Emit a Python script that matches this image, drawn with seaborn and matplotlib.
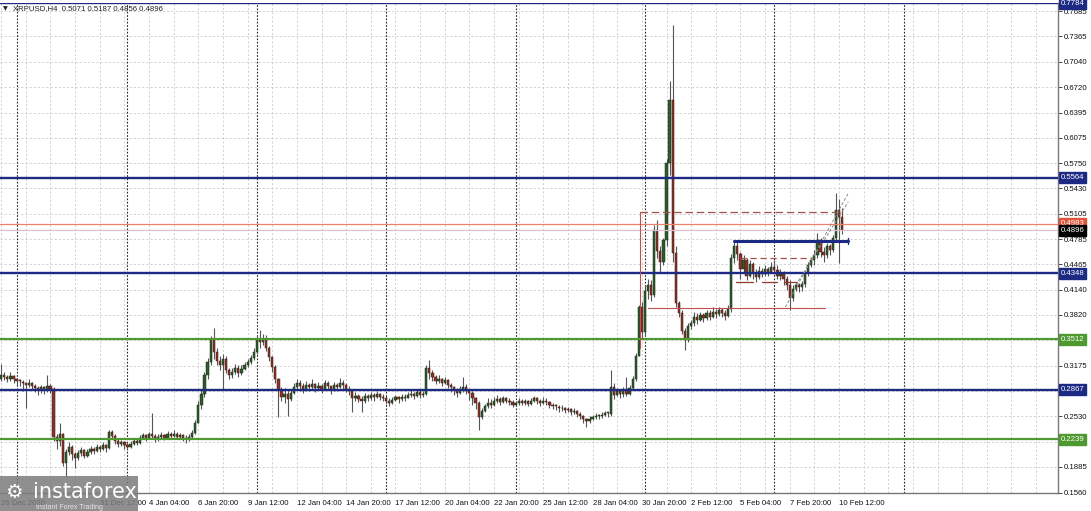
import numpy as np
import pandas as pd
import matplotlib
matplotlib.use("Agg")
import matplotlib.pyplot as plt
import seaborn as sns
from matplotlib.transforms import blended_transform_factory
from matplotlib.patches import Rectangle

# ---------------- data (XRPUSD, H4 candles) ----------------
first_open = 0.300
close = [0.306, 0.303, 0.301, 0.304, 0.300, 0.298, 0.297, 0.295, 0.293, 0.296,
         0.292, 0.289, 0.287, 0.290, 0.286, 0.292, 0.288, 0.227, 0.222, 0.230,
         0.193, 0.208, 0.214, 0.205, 0.200, 0.206, 0.210, 0.203, 0.207, 0.212,
         0.209, 0.214, 0.211, 0.216, 0.213, 0.233, 0.228, 0.222, 0.218, 0.220,
         0.216, 0.214, 0.218, 0.222, 0.219, 0.226, 0.229, 0.225, 0.230, 0.228,
         0.224, 0.227, 0.229, 0.226, 0.230, 0.228, 0.231, 0.227, 0.229, 0.226,
         0.224, 0.227, 0.232, 0.245, 0.268, 0.282, 0.305, 0.322, 0.350, 0.335,
         0.323, 0.318, 0.326, 0.312, 0.305, 0.310, 0.315, 0.308, 0.313, 0.318,
         0.322, 0.327, 0.335, 0.350, 0.348, 0.352, 0.340, 0.328, 0.316, 0.300,
         0.286, 0.277, 0.282, 0.275, 0.283, 0.290, 0.296, 0.292, 0.287, 0.293,
         0.290, 0.294, 0.289, 0.292, 0.288, 0.295, 0.291, 0.287, 0.293, 0.290,
         0.296, 0.293, 0.288, 0.285, 0.276, 0.279, 0.275, 0.272, 0.279, 0.276,
         0.280, 0.277, 0.281, 0.278, 0.276, 0.273, 0.270, 0.274, 0.277, 0.275,
         0.278, 0.276, 0.280, 0.282, 0.279, 0.284, 0.280, 0.282, 0.315, 0.308,
         0.303, 0.298, 0.301, 0.296, 0.299, 0.293, 0.290, 0.287, 0.283, 0.288,
         0.290, 0.285, 0.283, 0.276, 0.270, 0.252, 0.260, 0.266, 0.270, 0.268,
         0.273, 0.275, 0.271, 0.276, 0.273, 0.271, 0.268, 0.270, 0.272, 0.270,
         0.272, 0.269, 0.273, 0.276, 0.272, 0.270, 0.273, 0.271, 0.268, 0.266,
         0.265, 0.263, 0.264, 0.261, 0.262, 0.259, 0.260, 0.256, 0.253, 0.249,
         0.247, 0.250, 0.252, 0.254, 0.253, 0.255, 0.257, 0.256, 0.290, 0.280,
         0.285, 0.281, 0.286, 0.282, 0.289, 0.300, 0.330, 0.392, 0.360, 0.412,
         0.420, 0.408, 0.490, 0.463, 0.450, 0.477, 0.575, 0.655, 0.461, 0.397,
         0.385, 0.362, 0.350, 0.368, 0.372, 0.380, 0.376, 0.382, 0.378, 0.384,
         0.380, 0.386, 0.383, 0.388, 0.385, 0.381, 0.389, 0.455, 0.470, 0.460,
         0.440, 0.452, 0.432, 0.447, 0.436, 0.430, 0.438, 0.434, 0.440, 0.437,
         0.443, 0.439, 0.432, 0.436, 0.428, 0.420, 0.404, 0.415, 0.420, 0.417,
         0.422, 0.435, 0.446, 0.452, 0.458, 0.478, 0.462, 0.458, 0.470, 0.465,
         0.480, 0.515, 0.5071, 0.4896]
high = [0.320, 0.309, 0.306, 0.310, 0.306, 0.302, 0.301, 0.299, 0.297, 0.300,
        0.297, 0.294, 0.292, 0.293, 0.291, 0.305, 0.294, 0.290, 0.230, 0.244,
        0.232, 0.212, 0.220, 0.216, 0.208, 0.210, 0.214, 0.212, 0.211, 0.215,
        0.214, 0.218, 0.216, 0.220, 0.218, 0.236, 0.235, 0.230, 0.225, 0.223,
        0.222, 0.219, 0.221, 0.225, 0.224, 0.229, 0.232, 0.231, 0.233, 0.257,
        0.231, 0.230, 0.233, 0.231, 0.234, 0.233, 0.235, 0.233, 0.232, 0.231,
        0.229, 0.230, 0.236, 0.248, 0.272, 0.288, 0.310, 0.327, 0.355, 0.365,
        0.340, 0.330, 0.332, 0.330, 0.314, 0.315, 0.320, 0.318, 0.318, 0.322,
        0.326, 0.331, 0.340, 0.355, 0.363, 0.358, 0.356, 0.342, 0.330, 0.318,
        0.302, 0.290, 0.289, 0.286, 0.287, 0.295, 0.300, 0.299, 0.295, 0.298,
        0.296, 0.300, 0.296, 0.297, 0.294, 0.299, 0.298, 0.292, 0.297, 0.296,
        0.302, 0.299, 0.296, 0.291, 0.287, 0.284, 0.281, 0.279, 0.283, 0.282,
        0.284, 0.283, 0.285, 0.283, 0.281, 0.279, 0.276, 0.278, 0.280, 0.279,
        0.282, 0.281, 0.284, 0.286, 0.284, 0.287, 0.286, 0.285, 0.318, 0.325,
        0.312, 0.306, 0.305, 0.302, 0.303, 0.300, 0.296, 0.292, 0.289, 0.291,
        0.303, 0.294, 0.288, 0.285, 0.278, 0.272, 0.264, 0.269, 0.276, 0.275,
        0.277, 0.280, 0.278, 0.279, 0.278, 0.276, 0.274, 0.273, 0.276, 0.275,
        0.275, 0.274, 0.276, 0.279, 0.278, 0.275, 0.277, 0.276, 0.272, 0.270,
        0.269, 0.267, 0.267, 0.265, 0.265, 0.263, 0.263, 0.261, 0.258, 0.255,
        0.251, 0.253, 0.255, 0.257, 0.256, 0.258, 0.260, 0.259, 0.312, 0.296,
        0.289, 0.288, 0.290, 0.303, 0.293, 0.304, 0.333, 0.395, 0.398, 0.420,
        0.428, 0.426, 0.496, 0.503, 0.470, 0.480, 0.580, 0.680, 0.751, 0.470,
        0.400, 0.388, 0.366, 0.372, 0.376, 0.386, 0.384, 0.386, 0.385, 0.388,
        0.388, 0.392, 0.390, 0.392, 0.391, 0.388, 0.395, 0.460, 0.477, 0.475,
        0.462, 0.458, 0.455, 0.452, 0.450, 0.440, 0.444, 0.442, 0.445, 0.443,
        0.450, 0.452, 0.445, 0.440, 0.438, 0.432, 0.426, 0.420, 0.424, 0.423,
        0.425, 0.438, 0.450, 0.456, 0.465, 0.486, 0.480, 0.468, 0.474, 0.472,
        0.484, 0.537, 0.530, 0.5187]
low = [0.298, 0.299, 0.297, 0.298, 0.295, 0.293, 0.292, 0.285, 0.264, 0.290,
       0.286, 0.284, 0.280, 0.283, 0.281, 0.284, 0.283, 0.222, 0.212, 0.215,
       0.190, 0.176, 0.204, 0.197, 0.187, 0.197, 0.203, 0.200, 0.201, 0.205,
       0.205, 0.207, 0.207, 0.210, 0.208, 0.212, 0.226, 0.218, 0.214, 0.215,
       0.212, 0.210, 0.213, 0.217, 0.216, 0.218, 0.224, 0.222, 0.224, 0.224,
       0.220, 0.222, 0.225, 0.223, 0.225, 0.225, 0.227, 0.224, 0.225, 0.222,
       0.219, 0.222, 0.226, 0.230, 0.244, 0.262, 0.278, 0.300, 0.318, 0.326,
       0.318, 0.312, 0.286, 0.308, 0.300, 0.302, 0.307, 0.303, 0.306, 0.312,
       0.316, 0.320, 0.325, 0.332, 0.340, 0.344, 0.336, 0.324, 0.310, 0.296,
       0.252, 0.272, 0.270, 0.253, 0.272, 0.281, 0.286, 0.285, 0.283, 0.285,
       0.285, 0.287, 0.284, 0.286, 0.283, 0.286, 0.286, 0.282, 0.285, 0.285,
       0.289, 0.288, 0.284, 0.280, 0.259, 0.272, 0.271, 0.258, 0.270, 0.272,
       0.274, 0.273, 0.276, 0.274, 0.272, 0.269, 0.266, 0.269, 0.273, 0.270,
       0.273, 0.272, 0.276, 0.278, 0.275, 0.278, 0.276, 0.278, 0.280, 0.300,
       0.298, 0.294, 0.295, 0.292, 0.294, 0.289, 0.284, 0.280, 0.278, 0.282,
       0.284, 0.281, 0.274, 0.268, 0.262, 0.236, 0.250, 0.258, 0.264, 0.264,
       0.266, 0.270, 0.268, 0.270, 0.270, 0.267, 0.265, 0.266, 0.268, 0.267,
       0.268, 0.266, 0.268, 0.271, 0.269, 0.266, 0.269, 0.267, 0.264, 0.262,
       0.261, 0.259, 0.260, 0.257, 0.258, 0.255, 0.256, 0.252, 0.249, 0.245,
       0.240, 0.245, 0.248, 0.250, 0.249, 0.251, 0.253, 0.252, 0.254, 0.275,
       0.279, 0.276, 0.278, 0.279, 0.280, 0.287, 0.298, 0.330, 0.352, 0.356,
       0.402, 0.400, 0.405, 0.455, 0.435, 0.445, 0.470, 0.560, 0.450, 0.392,
       0.380, 0.358, 0.337, 0.348, 0.364, 0.368, 0.370, 0.374, 0.373, 0.376,
       0.375, 0.378, 0.378, 0.381, 0.380, 0.376, 0.379, 0.386, 0.448, 0.452,
       0.428, 0.435, 0.427, 0.430, 0.428, 0.424, 0.428, 0.430, 0.432, 0.431,
       0.436, 0.434, 0.428, 0.426, 0.420, 0.414, 0.388, 0.400, 0.412, 0.411,
       0.413, 0.418, 0.432, 0.443, 0.446, 0.455, 0.456, 0.450, 0.455, 0.458,
       0.462, 0.476, 0.448, 0.4856]

header = "XRPUSD,H4  0.5071 0.5187 0.4856 0.4896"
xtick_bars = [0, 32, 48, 64, 80, 96, 112, 128, 144, 160, 176, 192, 208, 224, 240, 256, 272]
xtick_labels = ["26 Dec 2020", "31 Dec 12:00", "4 Jan 04:00", "6 Jan 20:00", "9 Jan 12:00",
                "12 Jan 04:00", "14 Jan 20:00", "17 Jan 12:00", "20 Jan 04:00", "22 Jan 20:00",
                "25 Jan 12:00", "28 Jan 04:00", "30 Jan 20:00", "2 Feb 12:00", "5 Feb 04:00",
                "7 Feb 20:00", "10 Feb 12:00"]
week_start_bars = [5, 41, 83, 125, 167, 209, 251, 293]
ytick_values = [0.1560, 0.1885, 0.2205, 0.2530, 0.2850, 0.3175, 0.3495, 0.3820, 0.4140, 0.4465,
                0.4785, 0.5105, 0.5430, 0.5750, 0.6075, 0.6395, 0.6720, 0.7040, 0.7365, 0.7685]
hidden_ytick_labels = [0.2850, 0.3495]   # covered by the level boxes in the picture
navy_levels = [0.7784, 0.5564, 0.4348, 0.2867]
green_levels = [0.3512, 0.2239]
ask_level = 0.4983
bid_level = 0.4896

# drawn objects (bar index, price)
rect_left = (207.4, 0.513, 0.340)
dashed_top = (207.4, 272.5, 0.5125)
red_bottom = (210, 267.5, 0.391)
navy_res = (238, 275, 0.4765)
small_dash = (240, 263, 0.4545)
box_bottoms = [(238.5, 244, 0.4235), (247, 252, 0.4235), (254, 258.5, 0.4235)]
channel_a = ([254.6, 275.0], [0.392, 0.537])
channel_b = ([258.0, 275.0], [0.420, 0.526])

# ---------------- figure ----------------
sns.set_theme(style="white")
plt.rcParams["font.family"] = ["Liberation Sans", "DejaVu Sans"]

W, H = 1091, 511
fig = plt.figure(figsize=(W / 100, H / 100), dpi=100)
fig.patch.set_facecolor("white")
ax = fig.add_axes([0, 18 / H, 1058 / W, 490 / H])
ax.set_facecolor("white")

n = len(close)
idx = np.arange(n)
c = np.array(close)
hi = np.array(high)
lo = np.array(low)
o = np.r_[first_open, c[:-1]]
up = c >= o

ax.set_xlim(-0.39, 343.1)
ax.set_ylim(0.1554, 0.7790)

# grid
grid_kw = dict(color="#c9c9c9", lw=0.6, ls=(0, (2.5, 2.5)), zorder=0)
for v in ytick_values:
    ax.axhline(v, **grid_kw)
for b in range(0, 344, 8):
    ax.axvline(b, **grid_kw)
for b in week_start_bars:
    ax.axvline(b, color="#222222", lw=0.8, ls=(0, (1.5, 1.5)), zorder=1)

# candles
ax.vlines(idx, lo, hi, color="#555555", lw=0.8, zorder=3)
body = np.where(np.abs(c - o) < 0.0012, 0.0012, c - o)
ax.bar(idx[up], body[up], bottom=o[up], width=0.72, color="#2f5a2c",
       edgecolor="#1a2f18", linewidth=0.35, zorder=4)
ax.bar(idx[~up], body[~up], bottom=o[~up], width=0.72, color="#8a3328",
       edgecolor="#3d1a14", linewidth=0.35, zorder=4)

# levels
for v in navy_levels:
    ax.axhline(v, color="#1c2a84", lw=1.7, zorder=5)
for v in green_levels:
    ax.axhline(v, color="#4f9a30", lw=1.6, zorder=5)
ax.axhline(ask_level, color="#e8826a", lw=0.9, zorder=5)
ax.axhline(bid_level, color="#dcc0d0", lw=0.9, zorder=5)

# analysis objects
ax.plot([rect_left[0]] * 2, rect_left[1:], color="#c0504d", lw=0.8, zorder=5)
ax.plot(dashed_top[:2], [dashed_top[2]] * 2, color="#a0524a", lw=0.9, ls=(0, (6, 3)), zorder=5)
ax.plot(red_bottom[:2], [red_bottom[2]] * 2, color="#c0504d", lw=0.8, zorder=5)
ax.plot(navy_res[:2], [navy_res[2]] * 2, color="#1c2a84", lw=2.2, zorder=6)
ax.plot([navy_res[1]] * 2, [navy_res[2] - 0.004, navy_res[2] + 0.004], color="#1c2a84", lw=1.0, zorder=6)
ax.plot(small_dash[:2], [small_dash[2]] * 2, color="#a0524a", lw=0.9, ls=(0, (5, 3)), zorder=5)
for a, b, v in box_bottoms:
    ax.plot([a, b], [v, v], color="#8e3a2e", lw=0.9, zorder=5)
chan = pd.DataFrame({"bar": channel_a[0] + channel_b[0],
                     "price": channel_a[1] + channel_b[1],
                     "line": ["a", "a", "b", "b"]})
sns.lineplot(data=chan, x="bar", y="price", units="line", estimator=None, ax=ax,
             color="#8a8a8a", lw=0.7, dashes=False, zorder=5, legend=False)
for l in ax.get_lines()[-2:]:
    l.set_linestyle((0, (3, 2)))

# axes styling
for s in ["top", "left"]:
    ax.spines[s].set_visible(False)
for s in ["right", "bottom"]:
    ax.spines[s].set_color("#777777")
    ax.spines[s].set_linewidth(1.0)
ax.yaxis.tick_right()
ax.set_yticks(ytick_values)
ax.set_yticklabels(["" if v in hidden_ytick_labels else f"{v:.4f}" for v in ytick_values])
ax.tick_params(axis="y", direction="out", length=3, width=0.7, color="#444444",
               labelsize=5.6, pad=1.5, labelcolor="#111111")
ax.set_xticks(xtick_bars)
ax.set_xticklabels(xtick_labels)
ax.tick_params(axis="x", direction="out", length=3, width=0.7, color="#444444",
               labelsize=5.6, pad=2, labelcolor="#111111")
for lab in ax.get_xticklabels():
    lab.set_horizontalalignment("left")
ax.set_xlabel("")
ax.set_ylabel("")

# price labels on the right axis
tr = blended_transform_factory(ax.transAxes, ax.transData)
boxes = [(v, "#1c2a84", "white") for v in navy_levels] + \
        [(v, "#4f9a30", "white") for v in green_levels] + \
        [(ask_level, "#e0553a", "white"), (bid_level, "#000000", "white")]
for v, bg, fg in boxes:
    ax.text(1.0 + 2.5 / 1058, v, f"{v:.4f}", transform=tr, fontsize=5.6, color=fg,
            va="center", ha="left", zorder=20, clip_on=False,
            bbox=dict(boxstyle="square,pad=0.25", facecolor=bg, edgecolor=bg))

# header
fig.text(3 / W, 1 - 9 / H, "\u25BC", fontsize=4.5, color="#222222", va="center",
         family="DejaVu Sans")
fig.text(13 / W, 1 - 9 / H, header, fontsize=5.6, color="#222222", va="center")

# logo
fig.patches.append(Rectangle((0, 0), 138 / W, 35 / H, transform=fig.transFigure,
                             facecolor="#7c7c7c", alpha=0.85, edgecolor="none", zorder=30))
fig.text(5 / W, 19 / H, "\u2699", fontsize=14, color="white", va="center", ha="left",
         family="DejaVu Sans", zorder=31)
fig.text(33 / W, 19 / H, "instaforex", fontsize=15, color="white", va="center", ha="left",
         family="DejaVu Sans", zorder=31)
fig.text(36 / W, 4 / H, "Instant Forex Trading", fontsize=5, color="#e6e6e6", va="center",
         ha="left", zorder=31)

fig.savefig("out.png", dpi=100)
